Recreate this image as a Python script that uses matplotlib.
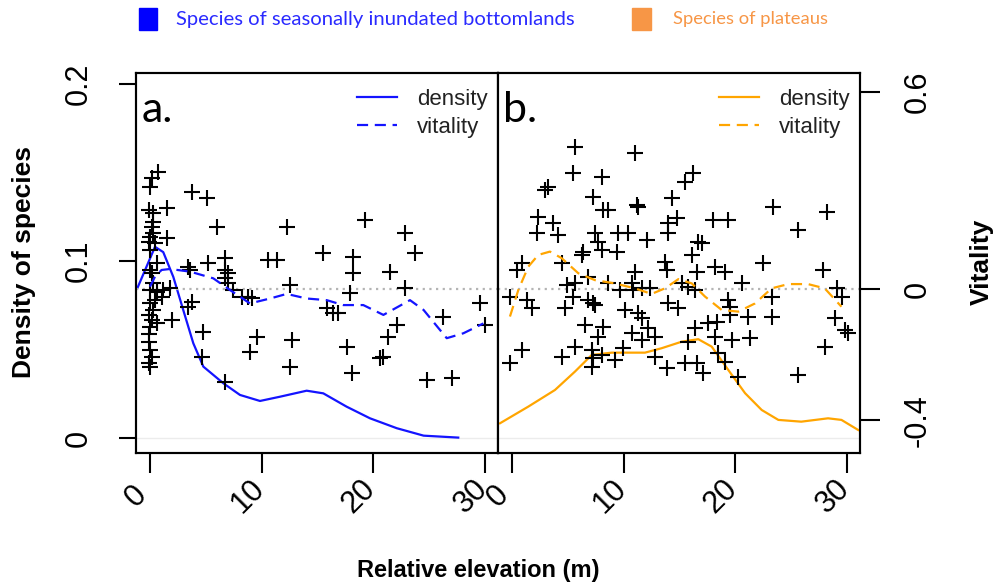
import matplotlib
matplotlib.use("Agg")
import matplotlib.pyplot as plt
from matplotlib.patches import Rectangle
from matplotlib.transforms import ScaledTranslation

plt.rcParams['font.family'] = ['Liberation Sans', 'DejaVu Sans']

# ---- data ----
# a. species of seasonally inundated bottomlands
bottom_density_x = [-1.13, 0.45, 1.19, 2.09, 2.98, 3.88, 4.78, 6.57, 8.06, 9.85, 11.64,
                    14.03, 15.52, 17.6, 19.7, 22.1, 24.5, 27.6]
bottom_density_y = [0.0846, 0.108, 0.105, 0.091, 0.0723, 0.0535, 0.0403, 0.0309, 0.0243,
                    0.0209, 0.0233, 0.0267, 0.0252, 0.0177, 0.0111, 0.0055, 0.0013, 0.0002]
bottom_vitality_x = [0.0, 0.45, 1.04, 1.79, 3.58, 5.67, 7.16, 8.95, 10.75, 12.24, 14.03,
                     15.82, 17.31, 19.1, 20.9, 23.28, 24.5, 26.57, 28.06, 29.85]
bottom_vitality_y = [0.007, 0.0375, 0.058, 0.061, 0.053, 0.0325, -0.003, -0.044, -0.029,
                     -0.015, -0.029, -0.034, -0.049, -0.049, -0.079, -0.034, -0.064,
                     -0.150, -0.135, -0.105]
bottom_species_x = [0.75, 0.15, 0.0, -0.13, 0.30, 1.49, 0.30, 0.30, 0.0, -0.13, 0.45, 1.49,
                    0.0, 0.60, 0.15, 0.30, 0.0, 0.60, 1.19, 1.79, 1.04, 0.0, 0.30, -0.13,
                    0.15, 0.60, 0.0, 1.94, -0.13, 0.0, 0.15, -0.13, 0.0, 0.15, 0.0, 0.45,
                    -0.13,
                    3.73, 5.07, 5.97, 12.24, 19.25, 22.83, 23.73, 3.43, 3.58, 5.22, 6.72,
                    6.72, 7.01, 6.72, 7.01, 7.46, 8.21, 8.81, 9.10, 10.60, 11.34, 15.52,
                    18.21, 18.21, 21.49, 12.54, 17.91, 22.83, 15.82, 16.42, 16.87, 3.73,
                    3.43, 4.78, 4.63, 9.55, 8.96, 12.69, 12.54, 17.61, 18.06, 20.60, 20.90,
                    21.34, 22.09, 26.27, 29.55, 30.0, 24.78, 27.01, 6.72]
bottom_species_v = [0.358, 0.337, 0.312, 0.241, 0.231, 0.246, 0.205, 0.170, 0.160, 0.144,
                    0.139, 0.155, 0.119, 0.078, 0.048, 0.017, -0.003, -0.008, -0.003, 0.002,
                    -0.023, -0.044, -0.064, -0.079, -0.095, -0.105, -0.115, -0.095, -0.161,
                    -0.186, -0.206, -0.227, -0.237, 0.190, 0.058, -0.033, -0.136,
                    0.297, 0.276, 0.190, 0.190, 0.210, 0.170, 0.109, 0.068, 0.058, 0.078,
                    0.094, 0.058, 0.048, 0.033, 0.017, -0.003, -0.023, -0.023, -0.028,
                    0.088, 0.088, 0.109, 0.099, 0.048, 0.053, 0.012, -0.013, 0.002, -0.059,
                    -0.074, -0.074, -0.039, -0.054, -0.130, -0.206, -0.145, -0.191, -0.155,
                    -0.237, -0.176, -0.257, -0.211, -0.206, -0.145, -0.110, -0.084, -0.044,
                    -0.110, -0.277, -0.272, -0.283]

# b. species of plateaus
plateau_density_x = [-1.07, 1.46, 3.85, 5.64, 7.14, 8.93, 11.91, 13.4, 15.2, 16.68, 17.88,
                     19.37, 20.87, 22.36, 23.85, 25.9, 28.3, 29.5, 31.0]
plateau_density_y = [0.0083, 0.0177, 0.0271, 0.0375, 0.0469, 0.0482, 0.0482, 0.0507, 0.0544,
                     0.0558, 0.0516, 0.0384, 0.0253, 0.0158, 0.0102, 0.0092, 0.0111, 0.0102,
                     0.0045]
plateau_vitality_x = [-0.18, 0.57, 1.46, 2.36, 3.4, 4.45, 5.94, 7.43, 9.22, 11.0, 12.5, 13.7,
                      14.9, 16.1, 17.28, 18.78, 20.27, 21.76, 23.25, 24.74, 26.5, 28.0, 29.5]
plateau_vitality_y = [-0.084, -0.003, 0.068, 0.104, 0.114, 0.094, 0.048, 0.027, 0.017, 0.002,
                      -0.015, 0.002, 0.030, 0.017, -0.023, -0.064, -0.069, -0.044, 0.002,
                      0.015, 0.015, 0.002, -0.054]
plateau_species_x = [5.64, 11.01, 5.49, 8.03, 3.25, 2.96, 16.24, 15.49, 14.30, 7.28, 8.18,
                     8.63, 11.16, 11.31, 2.36, 3.70, 2.21, 4.15, 7.43, 9.52, 10.42, 12.06,
                     14.00, 14.75, 14.00, 16.69, 16.98, 18.03, 19.37, 23.40, 28.18, 25.64,
                     6.39, 6.24, 7.73, 8.03, 9.37, 0.87, 0.42, 4.45, 13.70, 13.85, 16.09,
                     16.54, 18.18, 19.07, 22.51, 27.88, 11.01, 6.84, 5.64, 4.90, 8.63, 9.67,
                     10.72, 10.87, 11.61, 12.36, 15.19, 15.79, 16.39, 20.57, 23.25, 29.07,
                     29.52, -0.18, 1.31, 1.76, 4.75, 5.49, 6.84, 7.28, 7.43, 10.12, 11.31,
                     11.61, 14.00, 14.89, 19.37, 19.52, 19.52, 21.16, 23.25, 17.58, 16.39,
                     18.33, 28.92, 29.82, 30.12, 6.54, 8.18, 10.72, 12.21, 12.81, 7.73,
                     11.61, 15.79, 18.18, 19.67, 21.31, 28.03, 0.87, -0.18, 4.45, 5.64,
                     7.13, 7.28, 8.03, 9.22, 9.97, 12.81, 13.85, 15.49, 16.54, 17.13, 18.48,
                     19.07, 20.27, 25.64, 7.13]
plateau_species_v = [0.434, 0.414, 0.353, 0.342, 0.312, 0.302, 0.353, 0.327, 0.276, 0.281,
                     0.241, 0.241, 0.256, 0.251, 0.221, 0.200, 0.170, 0.165, 0.170, 0.170,
                     0.170, 0.149, 0.200, 0.215, 0.170, 0.144, 0.139, 0.210, 0.210, 0.251,
                     0.236, 0.180, 0.114, 0.104, 0.144, 0.119, 0.114, 0.078, 0.058, 0.078,
                     0.083, 0.058, 0.104, 0.053, 0.068, 0.053, 0.078, 0.058, 0.053, 0.038,
                     0.017, 0.012, 0.017, -0.003, 0.017, -0.003, 0.002, 0.002, 0.017, 0.007,
                     -0.003, 0.017, -0.023, 0.002, -0.023, -0.023, -0.034, -0.059, -0.059,
                     -0.023, -0.034, -0.044, -0.049, -0.064, -0.074, -0.089, -0.044, -0.059,
                     -0.034, -0.054, -0.079, -0.084, -0.084, -0.105, -0.120, -0.100, -0.089,
                     -0.125, -0.135, -0.110, -0.115, -0.135, -0.120, -0.145, -0.145, -0.155,
                     -0.161, -0.145, -0.155, -0.150, -0.176, -0.186, -0.227, -0.206, -0.176,
                     -0.186, -0.211, -0.201, -0.216, -0.181, -0.206, -0.242, -0.227, -0.227,
                     -0.257, -0.196, -0.222, -0.267, -0.262, -0.237]

x_ticks = [0, 10, 20, 30]
density_ticks = [0, 0.1, 0.2]
vitality_ticks = [-0.4, 0, 0.6]

BLUE = '#1414ff'
ORANGE = '#ffa500'
LEGEND_BLUE = '#2a2aff'
LEGEND_ORANGE = '#f79646'

W_PX, H_PX = 994, 585
fig = plt.figure(figsize=(W_PX / 100, H_PX / 100), dpi=100)


def px_box(x0, y0, x1, y1):
    return [x0 / W_PX, 1 - y1 / H_PX, (x1 - x0) / W_PX, (y1 - y0) / H_PX]


def draw_panel(rect, dens_x, dens_y, vit_x, vit_y, sp_x, sp_v, color, letter):
    ax = fig.add_axes(rect)
    axv = ax.twinx()
    ax.set_xlim(-1.25, 31.16)
    ax.set_ylim(-0.0085, 0.2062)
    axv.set_ylim(-0.5, 0.6585)

    ax.axhline(0, color='#ececec', lw=1, zorder=1)
    axv.axhline(0, color='#b4b4b4', lw=1.6, ls=(0, (1, 2)), zorder=1)
    dens_line, = ax.plot(dens_x, dens_y, color=color, lw=1.6, label='density', zorder=3)
    axv.plot(sp_x, sp_v, ls='none', marker='+', ms=12, mew=1.5, color='black', zorder=2)
    vit_line, = axv.plot(vit_x, vit_y, color=color, lw=1.6, ls=(0, (5, 3)),
                         label='vitality', zorder=3)

    for a in (ax, axv):
        for sp in a.spines.values():
            sp.set_linewidth(1.5)

    ax.set_xticks(x_ticks)
    ax.set_xticklabels([str(t) for t in x_ticks], rotation=45, ha='center', va='center',
                       rotation_mode='anchor', fontsize=22)
    ax.tick_params(axis='x', direction='out', length=14.4, width=1.5, pad=17)
    shift = ScaledTranslation(-14 / 100, 0, fig.dpi_scale_trans)
    for lab in ax.get_xticklabels():
        lab.set_transform(lab.get_transform() + shift)

    leg = axv.legend(handles=[dens_line, vit_line], loc='upper right', frameon=False,
                     bbox_to_anchor=(1 + 5 / 362, 1), fontsize=16, handlelength=1.8,
                     handletextpad=0.9, labelspacing=0.33, borderaxespad=0.4,
                     borderpad=0.3)
    for txt in leg.get_texts():
        txt.set_color('#222222')

    ax.text(0.015, 0.87, letter, transform=ax.transAxes, fontsize=31,
            family=['Lato', 'DejaVu Sans'], ha='left', va='baseline')
    return ax, axv


ax_a, ax_a_v = draw_panel(px_box(136, 73, 498, 453), bottom_density_x, bottom_density_y,
                          bottom_vitality_x, bottom_vitality_y, bottom_species_x,
                          bottom_species_v, BLUE, 'a.')
ax_b, ax_b_v = draw_panel(px_box(498, 73, 860, 453), plateau_density_x, plateau_density_y,
                          plateau_vitality_x, plateau_vitality_y, plateau_species_x,
                          plateau_species_v, ORANGE, 'b.')

# left axis: density
ax_a.set_yticks(density_ticks)
ax_a.set_yticklabels(['0', '0.1', '0.2'], rotation=90, ha='center', va='center',
                     rotation_mode='anchor', fontsize=22)
ax_a.tick_params(axis='y', direction='out', length=12.2, width=1.5, pad=28.8)
ax_a_v.set_yticks([])
fig.text(24 / W_PX, 1 - 262 / H_PX, 'Density of species', fontsize=19, fontweight='bold',
         rotation=90, ha='center', va='center')

# right axis: vitality
ax_b.set_yticks([])
ax_b_v.set_yticks(vitality_ticks)
ax_b_v.set_yticklabels(['-0.4', '0', '0.6'], rotation=90, ha='center', va='center',
                       rotation_mode='anchor', fontsize=22)
ax_b_v.tick_params(axis='y', direction='out', length=14.4, width=1.5, pad=27.4)
fig.text(982 / W_PX, 1 - 262 / H_PX, 'Vitality', fontsize=19, fontweight='bold',
         rotation=90, ha='center', va='center')

fig.text(478 / W_PX, 1 - 570 / H_PX, 'Relative elevation (m)', fontsize=17,
         fontweight='bold', ha='center', va='center')

# group key at the top
fig.patches.append(Rectangle((139 / W_PX, 1 - 30 / H_PX), 18 / W_PX, 22 / H_PX,
                             transform=fig.transFigure, color='#0000ff'))
fig.text(176 / W_PX, 1 - 19 / H_PX, 'Species of seasonally inundated bottomlands',
         color=LEGEND_BLUE, fontsize=14.6, family=['Lato', 'DejaVu Sans'], va='center')
fig.patches.append(Rectangle((632 / W_PX, 1 - 30 / H_PX), 19 / W_PX, 22 / H_PX,
                             transform=fig.transFigure, color=LEGEND_ORANGE))
fig.text(673 / W_PX, 1 - 19 / H_PX, 'Species of plateaus', color=LEGEND_ORANGE,
         fontsize=13.2, family=['Lato', 'DejaVu Sans'], va='center')

fig.savefig('out.png', dpi=100)
